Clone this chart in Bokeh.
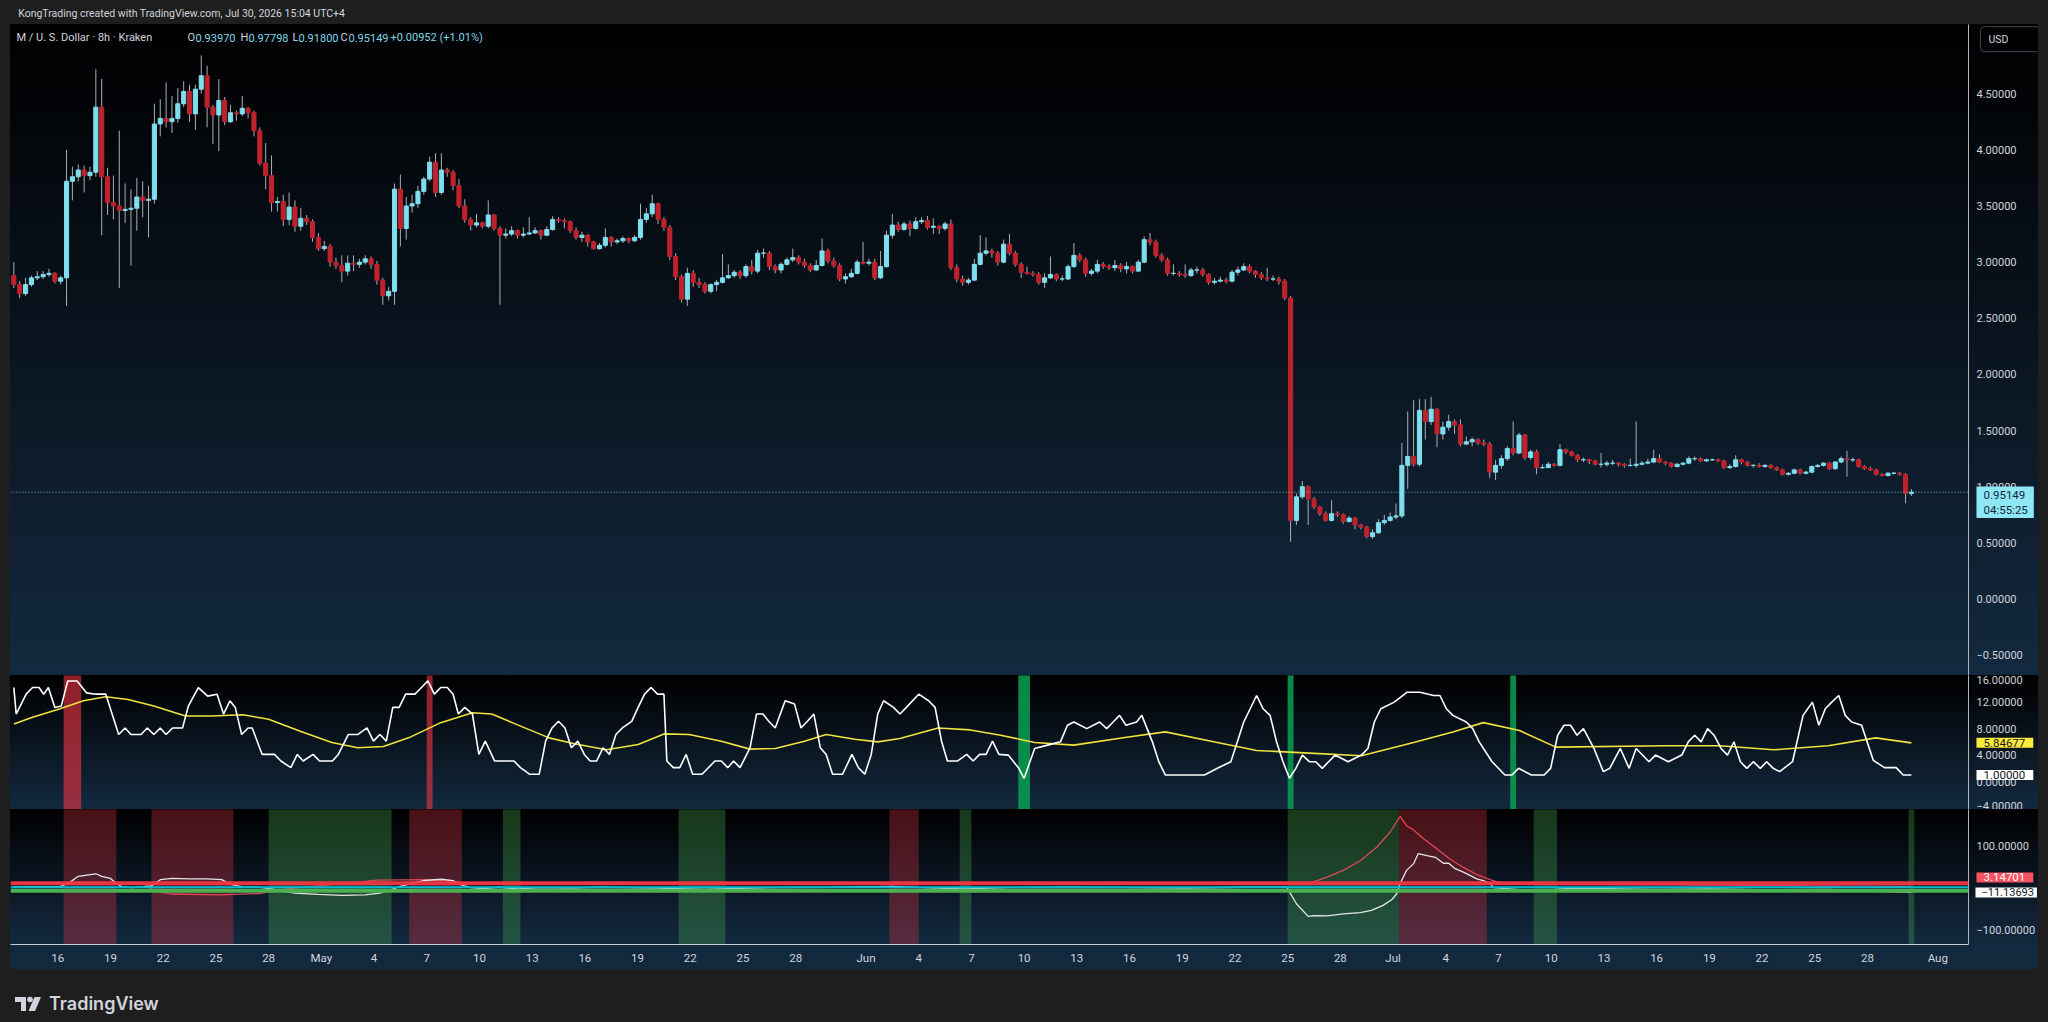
import numpy as np
from bokeh.plotting import figure
from bokeh.models import Range1d, FixedTicker, Span, Label, Div, ColumnDataSource
from bokeh.layouts import column
from bokeh.embed import file_html
from bokeh.resources import INLINE
from bokeh.core.properties import value

# ---------------- data (8h candles, Apr 13 12:00 -> Jul 30 12:00, UTC+4) ----------------
first_open = 2.88
close = [
2.80,2.72,2.80,2.86,2.87,2.89,2.90,2.83,2.86,3.72,
3.76,3.82,3.77,3.80,4.38,3.76,3.53,3.50,3.46,3.47,
3.48,3.58,3.55,3.56,4.23,4.28,4.25,4.28,4.41,4.52,
4.32,4.54,4.66,4.38,4.31,4.44,4.25,4.33,4.32,4.37,
4.33,4.17,3.88,3.77,3.53,3.54,3.38,3.49,3.32,3.39,
3.36,3.22,3.12,3.14,3.00,2.97,2.92,2.99,2.98,3.00,
3.03,2.98,2.84,2.70,2.74,3.65,3.30,3.50,3.52,3.63,
3.74,3.89,3.62,3.82,3.80,3.68,3.50,3.38,3.33,3.35,
3.32,3.42,3.30,3.24,3.25,3.28,3.24,3.25,3.26,3.28,
3.24,3.29,3.38,3.37,3.36,3.28,3.22,3.24,3.18,3.12,
3.15,3.22,3.18,3.19,3.21,3.19,3.22,3.38,3.43,3.52,
3.38,3.31,3.05,2.87,2.67,2.90,2.82,2.80,2.74,2.80,
2.82,2.86,2.88,2.91,2.88,2.96,2.92,3.08,3.08,2.96,
2.93,2.98,3.02,3.04,3.00,2.97,2.93,2.97,3.10,3.01,
2.97,2.85,2.87,2.90,3.00,2.99,3.00,2.86,2.96,3.24,
3.33,3.29,3.34,3.30,3.36,3.37,3.31,3.32,3.30,3.34,
2.95,2.85,2.82,2.84,2.98,3.08,3.10,3.08,3.00,3.16,
3.08,2.98,2.91,2.90,2.89,2.82,2.86,2.89,2.85,2.85,
2.96,3.06,3.02,2.90,2.92,2.98,2.96,2.95,2.97,2.94,
2.96,2.92,3.00,3.20,3.18,3.06,3.02,2.90,2.90,2.89,
2.88,2.93,2.93,2.89,2.82,2.83,2.84,2.83,2.91,2.93,
2.96,2.92,2.89,2.86,2.85,2.85,2.83,2.68,0.70,0.91,
1.00,0.89,0.82,0.76,0.70,0.76,0.75,0.69,0.72,0.66,
0.64,0.556,0.59,0.68,0.70,0.73,0.74,1.19,1.27,1.20,
1.68,1.58,1.69,1.47,1.53,1.58,1.55,1.38,1.40,1.42,
1.39,1.38,1.13,1.19,1.25,1.34,1.30,1.46,1.26,1.31,
1.17,1.17,1.20,1.19,1.33,1.31,1.28,1.24,1.24,1.23,
1.20,1.20,1.21,1.21,1.20,1.19,1.19,1.20,1.21,1.22,
1.25,1.22,1.21,1.18,1.20,1.21,1.25,1.25,1.23,1.24,
1.24,1.23,1.17,1.18,1.24,1.22,1.19,1.19,1.18,1.19,
1.17,1.15,1.11,1.12,1.15,1.12,1.13,1.18,1.19,1.21,
1.16,1.22,1.25,1.24,1.24,1.18,1.16,1.15,1.11,1.10,
1.12,1.12,1.11,0.93970,0.95149]
high = [
3.00,2.83,2.86,2.88,2.92,2.92,2.94,2.91,2.88,4.00,
3.85,3.87,3.86,3.85,4.72,4.63,3.84,3.77,4.17,3.70,
3.65,3.75,3.72,3.68,4.41,4.45,4.60,4.48,4.55,4.61,
4.58,4.58,4.84,4.75,4.40,4.63,4.47,4.40,4.35,4.48,
4.38,4.35,4.20,4.06,3.95,3.58,3.60,3.62,3.55,3.48,
3.42,3.38,3.26,3.19,3.16,3.04,3.06,3.06,3.06,3.03,
3.06,3.05,3.01,2.86,2.78,3.70,3.78,3.58,3.60,3.68,
3.76,3.94,3.97,3.97,3.84,3.82,3.74,3.56,3.40,3.43,
3.36,3.55,3.43,3.32,3.30,3.32,3.29,3.31,3.40,3.31,
3.29,3.32,3.41,3.40,3.39,3.37,3.31,3.27,3.25,3.19,
3.17,3.30,3.23,3.21,3.23,3.22,3.24,3.52,3.48,3.60,
3.53,3.40,3.33,3.08,2.89,2.95,2.93,2.86,2.82,2.81,
2.84,3.07,2.98,2.93,2.93,2.98,3.02,3.11,3.12,3.10,
2.98,3.00,3.04,3.12,3.06,3.03,2.99,3.02,3.21,3.12,
3.04,2.99,2.90,2.94,3.02,3.18,3.03,3.03,3.10,3.28,
3.43,3.36,3.36,3.37,3.40,3.40,3.41,3.39,3.33,3.36,
3.38,2.98,2.88,2.86,3.03,3.24,3.22,3.12,3.10,3.20,
3.25,3.10,3.00,2.96,2.92,2.91,2.90,3.05,2.90,2.88,
2.98,3.17,3.08,3.04,2.94,3.02,3.00,2.98,3.02,2.99,
3.00,2.97,3.02,3.23,3.26,3.20,3.08,3.04,2.98,2.92,
2.98,2.95,2.96,2.95,2.90,2.86,2.87,2.86,2.93,2.96,
2.99,2.98,2.93,2.91,2.95,2.88,2.87,2.85,2.70,0.94,
1.05,1.01,0.91,0.83,0.78,0.88,0.78,0.76,0.74,0.73,
0.67,0.65,0.62,0.71,0.75,0.77,0.85,1.39,1.67,1.77,
1.78,1.78,1.80,1.70,1.58,1.64,1.60,1.60,1.45,1.44,
1.43,1.42,1.40,1.24,1.28,1.36,1.58,1.48,1.47,1.33,
1.33,1.20,1.22,1.21,1.38,1.34,1.32,1.29,1.26,1.25,
1.24,1.30,1.23,1.24,1.22,1.21,1.25,1.58,1.23,1.25,
1.33,1.29,1.23,1.22,1.21,1.22,1.27,1.27,1.26,1.25,
1.25,1.25,1.24,1.20,1.28,1.25,1.23,1.20,1.21,1.20,
1.20,1.18,1.16,1.13,1.16,1.16,1.14,1.19,1.20,1.22,
1.22,1.23,1.27,1.32,1.26,1.25,1.19,1.18,1.16,1.12,
1.13,1.13,1.13,1.12,0.97798]
low = [
2.77,2.68,2.70,2.78,2.84,2.85,2.87,2.81,2.80,2.61,
3.55,3.72,3.62,3.73,3.76,3.24,3.42,3.38,2.77,3.35,
2.97,3.28,3.40,3.22,3.52,4.12,4.20,4.15,4.24,4.38,
4.25,4.18,4.50,4.20,4.05,3.99,4.22,4.24,4.26,4.30,
4.28,4.12,3.86,3.65,3.45,3.45,3.32,3.33,3.27,3.28,
3.33,3.18,3.10,3.10,2.96,2.94,2.82,2.88,2.92,2.95,
2.98,2.94,2.80,2.62,2.66,2.62,3.14,3.20,3.44,3.48,
3.60,3.72,3.58,3.60,3.76,3.64,3.48,3.35,3.28,3.31,
3.30,3.30,3.28,2.62,3.21,3.23,3.21,3.22,3.24,3.25,
3.20,3.23,3.28,3.35,3.30,3.26,3.20,3.18,3.14,3.11,
3.11,3.13,3.14,3.16,3.17,3.17,3.18,3.20,3.35,3.40,
3.34,3.28,3.02,2.84,2.64,2.61,2.78,2.77,2.72,2.72,
2.74,2.81,2.85,2.86,2.85,2.86,2.89,2.90,3.04,2.93,
2.90,2.90,2.97,3.00,2.98,2.95,2.91,2.92,2.96,2.99,
2.95,2.83,2.81,2.86,2.89,2.98,2.97,2.84,2.85,2.95,
3.21,3.27,3.28,3.23,3.29,3.34,3.29,3.25,3.25,3.28,
2.93,2.82,2.79,2.80,2.83,2.97,3.06,3.04,2.97,2.99,
3.06,2.96,2.86,2.89,2.87,2.80,2.77,2.85,2.83,2.83,
2.84,2.95,3.00,2.87,2.88,2.90,2.94,2.93,2.92,2.91,
2.90,2.90,2.91,2.99,3.15,3.04,3.00,2.88,2.88,2.87,
2.86,2.87,2.90,2.87,2.80,2.80,2.82,2.81,2.82,2.88,
2.92,2.90,2.86,2.84,2.83,2.83,2.80,2.66,0.51,0.66,
0.89,0.66,0.80,0.74,0.69,0.69,0.73,0.67,0.68,0.62,
0.62,0.54,0.535,0.58,0.66,0.69,0.71,0.72,0.98,1.18,
1.18,1.42,1.55,1.35,1.42,1.50,1.47,1.36,1.37,1.36,
1.37,1.36,1.08,1.06,1.16,1.23,1.28,1.29,1.24,1.24,
1.11,1.16,1.17,1.18,1.18,1.29,1.27,1.22,1.22,1.20,
1.19,1.17,1.18,1.19,1.18,1.17,1.18,1.17,1.19,1.20,
1.21,1.21,1.19,1.17,1.17,1.19,1.20,1.23,1.22,1.22,
1.23,1.22,1.16,1.16,1.17,1.20,1.18,1.17,1.17,1.17,
1.16,1.14,1.10,1.10,1.11,1.11,1.11,1.12,1.17,1.18,
1.15,1.15,1.21,1.09,1.22,1.17,1.15,1.14,1.10,1.09,
1.09,1.11,1.10,0.853,0.918]
change_abs = 0.00952
change_pct = 1.01
countdown = "04:55:25"

# indicator 1: oscillator (white) and its average (yellow); x = candle index
osc_idx = [0,0.4,2.1,3.2,4.3,5.1,5.9,7,8.1,9.2,
10.8,12.4,14,15.7,17.9,19,20,21.7,22.8,23.9,
25,26,27.1,28.8,29.8,31.5,33.1,34.7,35.8,36.9,
37.8,38.9,40,40.7,42.4,44.5,45.6,47.3,48.4,49.4,
51.1,52.2,54.4,55.4,57.1,58.7,60.3,61.4,62.5,63.6,
64.7,65.8,66.9,68.5,69.6,70.7,71.8,72.9,74,75,
75.9,77,78.3,79.4,80.5,82.1,83.8,85.4,86.5,88.1,
89.7,90.8,91.9,93,94.1,95.2,96.3,97.4,98.4,99.5,
100.6,101.7,102.8,103.9,105.5,106.6,107.7,108.8,109.9,111,
111.5,112.6,113.7,114.8,115.9,117.5,119.7,120.8,121.9,122.9,
124,125.7,126.8,127.9,128.9,130,131.7,133.3,134.4,135.5,
136.6,137.7,138.7,139.8,141.5,143.1,144.2,145.3,146.4,147.5,
148.5,150.2,151.3,152.4,154.5,156.2,157.3,158.4,159.4,161.1,
162.7,163.8,164.9,166,167.1,168.2,
169.8,171.6,172.5,174.3,176.5,178.7,179.9,181,183.2,185.4,
186.6,187.7,188.8,189.9,191.7,192.6,194.4,195.5,196.6,198.8,
201.1,203.3,205.5,207.8,210,211.1,212.2,213.3,214.5,215.6,
216.7,217.8,218.9,220,221.2,222.3,223.4,224.5,225.6,227.8,
230.1,231.2,232.3,233.4,235.7,237.9,240.1,242.4,243.5,244.6,
245.7,248,249.1,250.2,252.4,254.6,255.8,256.9,259.1,261.3,
262.4,263.6,264.7,265.8,266.9,268,269.8,271.4,272.5,274.3,
275.8,277,279.2,280.3,282.5,284.8,285.9,287,288.1,289.2,
290.3,291.5,292.6,293.7,294.8,295.9,297,298.2,299.3,300.4,
301.5,303.7,305.5,307.1,308.2,309.3,310.4,311.6,312.7,313.8,
315.5,317.5,319.4,321.4,322.6,324]
osc_val = [14.2,10.2,13.2,14.2,14.2,13.2,14.2,11.2,11.4,15.2,
15.2,13.4,13.2,13.2,7.1,8.1,7.1,7.1,8.1,7.1,
8.1,7.1,8.1,8.1,11.4,14.2,12.9,13.2,10.2,12.2,
11.2,7.1,8.1,8.1,4.1,4.1,3.1,2.1,4.1,3.1,
4.1,3.1,3.1,4.1,7.1,7.1,8.1,6.1,7.1,6.1,
11.2,11.2,13.2,13.2,14.2,15.2,13.2,14.2,14.2,13.2,
10.2,11.2,10.2,4.1,6.1,3.1,3.1,3.1,2.1,1.1,
1.1,6.1,8.1,9.1,8.1,5.1,6.1,4.1,3.1,3.1,
5.1,4.1,7.1,8.1,9.1,11.2,13.2,14.2,13.2,13.2,
3.1,2.1,2.1,4.1,1.1,1.1,3.1,3.1,2.1,3.1,
2.1,5.1,10.2,10.2,9.1,8.1,12.2,11.7,8.1,9.1,
10.2,5.1,4.1,1.1,1.1,4.1,2.1,1.1,4.1,10.2,
12.2,11.2,10.2,11.2,13.2,12.2,11.2,6.1,3.1,3.1,
4.1,3.1,4.1,4.1,6.1,4.1,
4,2,0.5,5,5.5,6,8.5,9,8,9,
8,9,10,8.5,9,10,6,3,1,1,
1,1,2,3,9,11,13,11,10,6,
3,0.5,2,4,3,3,2,3,4,3,
4,5,9,11,12,13.5,13.5,13,13,11,
10,9,8,6,3,1,1,2,1,1,
2,7,8.5,8.5,7,8,5,1.5,2,5,
2,5,3,4,3,4,6,7,6,8,
7,5,4,6,3,2,3,2,3,2,
1.5,3,10,12,8.5,11,12,13,10,9,
8.5,3.2,2.1,2.1,1,1.0]
sig_idx = [0,3.2,7.5,11.9,15.7,19.5,23.9,29.3,33.7,39.1,
43.5,48.9,54.3,58.7,63.1,67.4,72.9,78.3,81.6,85.9,
91.4,95.7,101.2,106.6,111,115.3,120.8,125.7,130,135,
138.7,143.6,147.5,151.3,157.8,163.3,168.5,174.3,181,190,
196.6,205.5,212.2,221.2,230.1,239,245.7,250.9,257.1,263.3,
281.9,291.2,300.5,309.8,317.9,324]
sig_val = [8.7,9.7,10.9,12.2,12.8,12.4,11.4,9.9,9.9,10.1,
9.4,7.6,5.9,5.1,5.3,6.6,8.9,10.4,10.2,8.6,
6.6,5.7,4.8,5.6,7.2,7.1,6.1,4.9,5.0,6.1,
7.1,6.4,6.0,6.5,8.1,7.8,7.0,5.9,5.5,6.7,
7.5,5.9,4.7,4.3,3.9,5.9,7.5,8.9,7.7,5.2,
5.4,5.4,4.8,5.4,6.6,5.84677]
ind1_bar_start = [9, 71, 172, 218, 256]
ind1_bar_end = [11, 71, 173, 218, 256]
ind1_bar_kind = ["bear", "bear", "bull", "bull", "bull"]

# indicator 2
wt_idx = [0,8,9.5,11,12.5,14,15,16.5,17.5,18.5,
20,22,23.5,25,27,30,33,35.5,37,39,
42,44,46,48,52,56,60,62.5,64.5,66,
68,70,73,75,76.5,78,80,83,86,90,
95,100,110,118,122,130,140,150,155,162,
170,180,190,200,210,216,217.3,219,221,221.9,
224.2,227,229.9,231.8,233.8,235.3,236.1,236.7,237.8,239,
239.8,241.3,242.7,244.1,245,246.1,247.5,249.8,250.9,252.1,
252.6,255,258,261,264,268,272,280,290,300,
310,316,320,324]
wt_val = [2,3,12,27,30,33,27,22,10,2,
0,2,4,19,22,21,21,19,8,2,
1,-3,-8,-13,-16,-18,-17,-13,-4,3,
10,17,20,17,6,0,-2,1,-3,0,
-1,1,-1,-4,-2,0,1,3,0,-3,
0,1,0,-1,1,1,2,-38,-68,-66,
-67,-62,-59,-54,-42,-28,-15,10,41,57,
81,76,72,58,58,45,37,21,17,9,
0,-2,-6,-7,-3,-1,-2,-4,-3,-5,
-4,-8,-9,-11.13693]
rc_idx = [0,22,24,27,35,42,45,50,58,62,
70,74,77,217,221.3,224.2,227,229.9,232.7,235,
236.7,237.8,239,240.7,243,245.2,247.5,249.8,252.1,253.8,
260,290,324]
rc_val = [10.7,10.7,-8,-15,-17,-14,-5,2,12,18,
19,16,10.7,10.7,10.7,25,41,64,96,132,
169,147,137,116,92,68,48,31,19,10.7,
8,6,3.14701]
lvl_upper = 10.7
lvl_mid = 1.2
lvl_lower = -7.4
ind2_col_start = [9, 24, 44, 68, 84, 114, 150, 162, 218, 237, 260, 324]
ind2_col_end = [17, 37, 64, 76, 86, 121, 154, 163, 236, 251, 263, 324]
ind2_col_kind = ["bear", "bear", "bull", "bear", "bull", "bull", "bear", "bull", "bull", "bear", "bull", "bull"]

# axis ticks (x in days since Apr 13 00:00)
xtick_days = [3,6,9,12,15,18,21,24,27,30,33,36,39,42,45,49,52,55,58,61,64,67,70,73,76,79,82,85,88,91,94,97,100,103,106,110]
xtick_labels = ["16","19","22","25","28","May","4","7","10","13","16","19","22","25","28","Jun","4","7","10","13","16","19","22","25","28","Jul","4","7","10","13","16","19","22","25","28","Aug"]
price_ticks = [-0.5,0.0,0.5,1.0,1.5,2.0,2.5,3.0,3.5,4.0,4.5]
ind1_ticks = [-4,0,4,8,12,16]
ind2_ticks = [-100,100]

# ---------------- build ----------------
n = min(len(close), len(high), len(low))
close = close[:n]; high = high[:n]; low = low[:n]
opn = [first_open] + close[:n - 1]
m1 = min(len(osc_idx), len(osc_val)); m2 = min(len(sig_idx), len(sig_val))

def cday(idx):
    return 0.5 + np.asarray(idx, dtype=float) / 3.0

UP = "#7fdfee"
DN = "#c0222b"
WICK = "#a9aeb6"
TXT = "#d1d4dc"
FONT = "Roboto"
FRAME_BG = "#1e1e1e"
LEFT = 10
FW = 1958
RIGHT = 70
XR0, XR1 = 0.31, 111.75
xr = Range1d(XR0, XR1)

def px2day(px):
    return XR0 + (px - LEFT) * (XR1 - XR0) / FW

def fmt(v):
    s = "%.5f" % abs(v)
    return ("\u2212" + s) if v < 0 else s

def grad_css(stop_px=None):
    g = ("linear-gradient(to bottom, #000000 0px, #13293f %dpx, #12283d 100%%)" % stop_px) if stop_px \
        else "linear-gradient(to bottom, #000000 0%, #13293f 100%)"
    return "%s %dpx 0px / %dpx 100%% no-repeat %s" % (g, LEFT, FW + RIGHT, FRAME_BG)

def pane(fh, yr, bottom=False, stop_px=None):
    p = figure(frame_width=FW, frame_height=fh, x_range=xr, y_range=yr,
               output_backend="svg", toolbar_location=None,
               y_axis_location="right", x_axis_location=("below" if bottom else None),
               min_border_left=LEFT, min_border_right=RIGHT, min_border_top=0,
               min_border_bottom=(25 if bottom else 0))
    p.background_fill_color = None
    p.border_fill_color = None
    p.outline_line_color = None
    p.grid.visible = False
    p.styles = {"background": grad_css(stop_px)}
    ya = p.yaxis[0]
    ya.axis_line_color = "#b2b5be"
    ya.major_tick_line_color = None
    ya.minor_tick_line_color = None
    ya.major_tick_out = 0
    ya.major_tick_in = 0
    ya.major_label_text_color = TXT
    ya.major_label_text_font = FONT
    ya.major_label_text_font_size = "11px"
    ya.major_label_standoff = 8
    return p

def tag(p, yv, text, bg, fg, size="11.5px", baseline="middle", pad=None, border=None, radius=0,
        xoff=8, line_height=1.15):
    pad = pad or dict(left=7, right=8, top=1, bottom=1)
    src = ColumnDataSource(dict(x=[XR1 - 0.002], y=[yv], t=[text]))
    p.text(x="x", y="y", text="t", source=src, x_offset=xoff,
           text_color=fg, text_font=value(FONT), text_font_size=size,
           text_baseline=baseline, text_align="left", text_line_height=line_height,
           background_fill_color=bg, border_line_color=border,
           padding=pad, border_radius=radius, level="overlay")

# header strip
hdr = figure(width=2048, height=24, x_range=Range1d(0, 2048), y_range=Range1d(0, 24),
             output_backend="svg", toolbar_location=None, x_axis_location=None,
             y_axis_location=None, min_border=0)
hdr.background_fill_color = FRAME_BG
hdr.border_fill_color = FRAME_BG
hdr.outline_line_color = None
hdr.grid.visible = False
hdr.add_layout(Label(x=8, y=11, text="KongTrading created with TradingView.com, Jul 30, 2026 15:04 UTC+4",
                     text_color=TXT, text_font=FONT, text_font_size="10.5px", text_baseline="middle"))

# main price pane
pm = pane(651, Range1d(-0.681, 5.116))
pm.yaxis[0].ticker = FixedTicker(ticks=price_ticks)
pm.yaxis[0].major_label_overrides = {t: fmt(t) for t in price_ticks}

src = ColumnDataSource(dict(
    x=cday(np.arange(n)), h=high, l=low,
    top=[max(o, c) for o, c in zip(opn, close)],
    bot=[min(o, c) for o, c in zip(opn, close)],
    color=[UP if c >= o else DN for o, c in zip(opn, close)]))
pm.segment(x0="x", y0="l", x1="x", y1="h", line_color=WICK, line_width=1, source=src)
pm.vbar(x="x", width=0.7 / 3, top="top", bottom="bot", fill_color="color", line_color="color",
        line_width=1, source=src)

last_close = close[-1]
pm.add_layout(Span(location=last_close, dimension="width", line_color="#7fd3e6", line_alpha=0.85,
                   line_dash="1 2", line_width=1))
tag(pm, last_close + 0.05, "%.5f\n%s" % (last_close, countdown), "#8fe6f5", "#10283a",
    baseline="top", pad=dict(left=7, right=6, top=1, bottom=1), line_height=1.1)
tag(pm, 4.985, "USD", None, TXT, size="10.5px", pad=dict(left=8, right=34, top=6, bottom=6),
    border="#434651", radius=4, xoff=12)

leg_y = 5.0
leg_parts = [(16, "M / U. S. Dollar \u00b7 8h \u00b7 Kraken", TXT),
             (187, "O", TXT), (195, "%.5f" % opn[-1], "#7fd8e8"),
             (240, "H", TXT), (248, "%.5f" % high[-1], "#7fd8e8"),
             (292, "L", TXT), (298, "%.5f" % low[-1], "#7fd8e8"),
             (340, "C", TXT), (348, "%.5f" % close[-1], "#7fd8e8"),
             (390, "+%.5f (+%.2f%%)" % (change_abs, change_pct), "#7fd8e8")]
for px, t, col in leg_parts:
    pm.add_layout(Label(x=px2day(px), y=leg_y, text=t, text_color=col, text_font=FONT,
                        text_font_size="11px", text_baseline="middle"))

# indicator 1
p1 = pane(134, Range1d(-4.22, 16.02))
p1.yaxis[0].ticker = FixedTicker(ticks=ind1_ticks)
p1.yaxis[0].major_label_overrides = {t: fmt(t) for t in ind1_ticks}
for s, e, k in zip(ind1_bar_start, ind1_bar_end, ind1_bar_kind):
    p1.quad(left=cday(s) - 1 / 6, right=cday(e) + 1 / 6, bottom=-10, top=30,
            fill_color=("#f23645" if k == "bear" else "#089950"),
            fill_alpha=(0.6 if k == "bear" else 0.9), line_color=None)
p1.line(cday(sig_idx[:m2]), sig_val[:m2], line_color="#f2e33c", line_width=1.6)
p1.line(cday(osc_idx[:m1]), osc_val[:m1], line_color="#ffffff", line_width=1.6)
tag(p1, sig_val[m2 - 1], "%.5f" % sig_val[m2 - 1], "#ffeb3b", "#131722")
tag(p1, osc_val[m1 - 1], "%.5f" % osc_val[m1 - 1], "#ffffff", "#131722")

# indicator 2
p2 = pane(135, Range1d(-134.7, 185.4), bottom=True, stop_px=135)
p2.yaxis[0].ticker = FixedTicker(ticks=ind2_ticks)
p2.yaxis[0].major_label_overrides = {t: fmt(t) for t in ind2_ticks}
for s, e, k in zip(ind2_col_start, ind2_col_end, ind2_col_kind):
    p2.quad(left=cday(s) - 1 / 6, right=cday(e) + 1 / 6, bottom=-500, top=500,
            fill_color=("#f23645" if k == "bear" else "#4caf50"),
            fill_alpha=(0.3 if k == "bear" else 0.32), line_color=None)
p2.add_layout(Span(location=lvl_lower, dimension="width", line_color="#4caf50", line_width=4))
p2.add_layout(Span(location=lvl_mid, dimension="width", line_color="#00bcd4", line_width=2))
p2.line(cday(rc_idx), rc_val, line_color="#f04a58", line_width=1.3, line_alpha=0.9)
p2.add_layout(Span(location=lvl_upper, dimension="width", line_color="#f23645", line_width=4,
                   line_alpha=0.95))
p2.line(cday(wt_idx), wt_val, line_color="#e6e6e6", line_width=1.3)
tag(p2, 24.2, "%.5f" % rc_val[-1], "#f7525f", "#ffffff")
tag(p2, wt_val[-1], fmt(wt_val[-1]), "#ffffff", "#131722", size="11px",
    pad=dict(left=6, right=3, top=1, bottom=1), xoff=7)

xa = p2.xaxis[0]
xa.ticker = FixedTicker(ticks=xtick_days)
xa.major_label_overrides = {d: l for d, l in zip(xtick_days, xtick_labels)}
xa.axis_line_color = "#c8ccd4"
xa.major_tick_line_color = None
xa.minor_tick_line_color = None
xa.major_tick_out = 0
xa.major_tick_in = 0
xa.major_label_text_color = TXT
xa.major_label_text_font = FONT
xa.major_label_text_font_size = "11.5px"
xa.major_label_standoff = 6

logo_html = ('<div style="display:flex;align-items:center;margin-top:17px;margin-left:10px;">'
             '<svg width="28" height="16" viewBox="0 0 28 16">'
             '<path d="M0 1H11V15H6V6H0Z" fill="#d1d4dc"/>'
             '<circle cx="15" cy="3.5" r="2.8" fill="#d1d4dc"/>'
             '<path d="M19.5 1H26L20 15H13.5Z" fill="#d1d4dc"/></svg>'
             '<span style="margin-left:6px;font-family:Inter,Roboto,sans-serif;font-size:18px;'
             'font-weight:600;color:#d1d4dc;">TradingView</span></div>')
logo = Div(text=logo_html, width=2038, height=44)

layout = column(hdr, pm, p1, p2, logo, spacing=0)
html = file_html(layout, INLINE, title="M / USD 8h")
html = html.replace("<head>", "<head><style>html,body{background:#1e1e1e;overflow:hidden;}</style>", 1)
open("out.html", "w").write(html)
